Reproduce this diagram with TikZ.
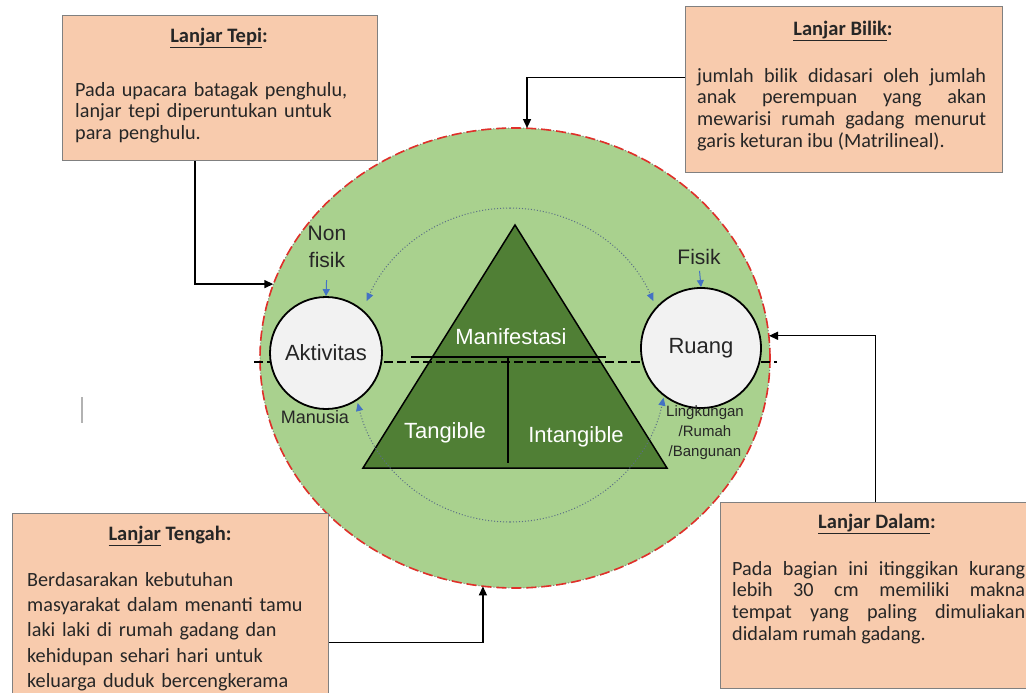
\documentclass[tikz,border=0pt]{standalone}
\usepackage{fontspec}
\setmainfont{Liberation Sans}
\newfontfamily\calfont{Carlito}
\usetikzlibrary{arrows.meta,calc,shapes.geometric}
\definecolor{peach}{HTML}{F8CBAD}
\definecolor{lgreen}{HTML}{A9D18E}
\definecolor{dgreen}{HTML}{507F35}
\definecolor{cgray}{HTML}{F2F2F2}
\definecolor{bgray}{HTML}{808080}
\definecolor{ablue}{HTML}{4472C4}
\definecolor{dred}{HTML}{E0302A}
\definecolor{dotc}{HTML}{5B6F86}
\definecolor{txt}{HTML}{262626}
\tikzset{
  infobox/.style={draw=bgray, fill=peach, line width=1.1pt, inner sep=0pt, rectangle},
  boxhead/.style={font=\calfont\bfseries\fontsize{20.5}{22}\selectfont, text=txt, inner sep=0pt},
  boxbody/.style={font=\calfont\fontsize{20.2}{21.7}\selectfont, text=txt, inner sep=0pt, anchor=north west},
  arr/.style={-{Triangle[length=9pt,width=8pt]}, line width=1.4pt, black},
  barr/.style={-{Triangle[length=7pt,width=7pt]}, line width=1pt, ablue},
  darr/.style={dotc, line width=1pt, dotted, -{Triangle[length=8pt,width=7pt,color=ablue]}},
  smallcirc/.style={circle, draw=black, fill=cgray, line width=1.8pt, inner sep=0pt, font=\fontsize{22}{26}\selectfont, text=txt},
  lbl/.style={font=\fontsize{21}{27}\selectfont, text=txt, inner sep=0pt, align=center},
  wlbl/.style={font=\fontsize{22}{26}\selectfont, text=white, inner sep=0pt},
}
\begin{document}
\begin{tikzpicture}[x=1pt,y=1pt]
\useasboundingbox (0,0) rectangle (1026,-693);
\fill[white] (0,0) rectangle (1026,-693);

% big circle
\node[ellipse, fill=lgreen, minimum width=510pt, minimum height=460pt, inner sep=0pt] (big) at (515,-358) {};
\draw[bgray, dotted, line width=1pt] (big.center) ellipse [x radius=255, y radius=230];
\draw[dred, dash pattern=on 10pt off 5pt, line width=1.6pt] (big.center) ellipse [x radius=255, y radius=230];

% triangle
\coordinate (apex) at (515,-225);
\coordinate (bl) at (363,-468);
\coordinate (br) at (667,-468);
\draw[fill=dgreen, line width=1.5pt] (apex) -- (bl) -- (br) -- cycle;
\coordinate (hl) at (411,-357);
\coordinate (hr) at (606,-357);
\coordinate (vt) at (508,-357);
\coordinate (vb) at (508,-463);
\draw[line width=1.5pt] (hl) -- (hr);
\draw[line width=1.5pt] (vt) -- (vb);
\node[wlbl] (mani) at (511,-337) {Manifestasi};
\node[wlbl] (tang) at (445,-433) {Tangible};
\node[wlbl] (intang) at (576,-437) {Intangible};

% dashed axis
\coordinate (dl) at (254,-362);
\coordinate (dr) at (777,-362);
\draw[line width=2pt, dash pattern=on 9pt off 4pt] (dl) -- (dr);

% dotted cycle
\coordinate (dc) at (510,-365);
\draw[darr] (dc) ++(90:157) arc[start angle=90, end angle=156, radius=157];
\draw[darr] (dc) ++(90:157) arc[start angle=90, end angle=24, radius=157];
\draw[darr] (dc) ++(270:157) arc[start angle=270, end angle=194, radius=157];
\draw[darr] (dc) ++(270:157) arc[start angle=270, end angle=348, radius=157];

% small circles
\node[smallcirc, minimum size=112pt] (akt) at (326,-353) {Aktivitas};
\node[smallcirc, minimum size=120pt] (ruang) at (701,-348) {Ruang};

\node[lbl] (nf) at (327,-247) {Non\\fisik};
\node[lbl] (fis) at (699,-257) {Fisik};
\draw[barr, shorten <=12pt] (nf.south) -- (akt.north);
\draw[barr, shorten <=6pt] (fis.south) -- (ruang.north);
\node[font=\fontsize{18}{22}\selectfont, text=txt, inner sep=0pt] (man) at (315,-417) {Manusia};
\node[font=\fontsize{15}{20}\selectfont, text=txt, inner sep=0pt, align=center] (ling) at (705,-433) {Lingkungan\\/Rumah\\/Bangunan};

% boxes
\node[infobox, minimum width=315pt, minimum height=145pt, anchor=north west] (tepi) at (62,-15) {};
\node[boxhead] at (219,-38) {\underline{Lanjar Tepi}:};
\node[boxbody, text width=290pt, align=left] at (75,-82) {Pada upacara batagak penghulu,\\lanjar tepi diperuntukan untuk\\para penghulu.};

\node[infobox, minimum width=317pt, minimum height=166pt, anchor=north west] (bilik) at (685,-6) {};
\node[boxhead] at (843,-31) {\underline{Lanjar Bilik}:};
\node[boxbody, text width=289pt, align=justify] at (697,-68) {\hyphenpenalty=10000 jumlah bilik didasari oleh jumlah\linebreak anak perempuan yang akan\linebreak mewarisi rumah gadang menurut\linebreak garis keturan ibu (Matrilineal).};

\node[infobox, minimum width=316pt, minimum height=258pt, anchor=north west] (tengah) at (12,-513) {};
\node[boxhead] at (170,-536) {\underline{Lanjar} Tengah:};
\node[boxbody, font=\calfont\fontsize{20.2}{25.3}\selectfont, text width=300pt, align=left] at (27,-572) {Berdasarakan kebutuhan\\masyarakat dalam menanti tamu\\laki laki di rumah gadang dan\\kehidupan sehari hari untuk\\keluarga duduk bercengkerama};

\node[infobox, minimum width=310pt, minimum height=186pt, anchor=north west] (dalam) at (720,-502) {};
\node[boxhead] at (877,-524) {\underline{Lanjar Dalam}:};
\node[boxbody, text width=293pt, align=justify] at (732,-561) {\hyphenpenalty=10000 Pada bagian ini itinggikan kurang\linebreak lebih 30 cm memiliki makna\linebreak tempat yang paling dimuliakan\linebreak didalam rumah gadang.};

% connectors
\coordinate (tx) at (195,0);
\draw[arr] (tepi.south -| tx) |- (big.163);
\draw[arr] ($(bilik.west)+(0,12)$) -| (big.87);
\draw[arr] (dalam.north) |- (big.5);
\draw[arr] (tengah.east) -| (big.262);

% stray cursor mark
\draw[black!30, line width=1.5pt] (82,-397) -- (82,-423);
\end{tikzpicture}
\end{document}
